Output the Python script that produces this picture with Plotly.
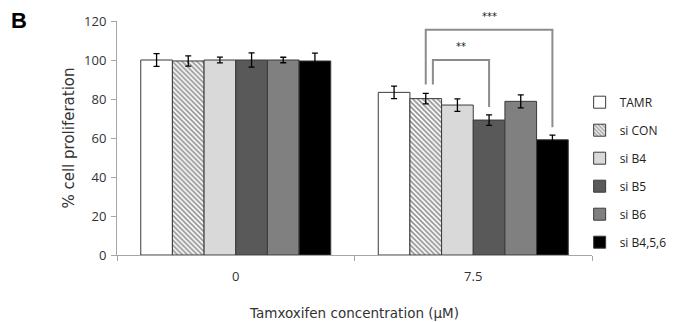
import plotly.graph_objects as go

# ---- data ----
concentrations = ["0", "7.5"]
groups = ["TAMR", "si CON", "si B4", "si B5", "si B6", "si B4,5,6"]
means = {
    "TAMR":      [100.0, 83.4],
    "si CON":    [99.5, 80.2],
    "si B4":     [100.0, 76.9],
    "si B5":     [100.0, 69.2],
    "si B6":     [100.0, 78.8],
    "si B4,5,6": [99.5, 59.1],
}
errors = {
    "TAMR":      [3.3, 3.2],
    "si CON":    [2.6, 2.7],
    "si B4":     [1.5, 3.2],
    "si B5":     [3.7, 2.7],
    "si B6":     [1.4, 3.3],
    "si B4,5,6": [4.0, 2.4],
}
# significance brackets: (group a, group b, label, bracket level in % units)
sig_pairs = [("si CON", "si B5", "**", 100.0), ("si CON", "si B4,5,6", "***", 115.5)]

fills = {
    "TAMR": "#ffffff",
    "si CON": "#ffffff",
    "si B4": "#d9d9d9",
    "si B5": "#595959",
    "si B6": "#808080",
    "si B4,5,6": "#000000",
}

fig = go.Figure()
for g in groups:
    marker = dict(color=fills[g], line=dict(color="#3a3a3a", width=1))
    if g == "si CON":
        marker["pattern"] = dict(shape="\\", fgcolor="#2a2a2a", bgcolor="#ffffff",
                                 size=3.5, solidity=0.5)
    fig.add_trace(go.Bar(
        name=g, x=concentrations, y=means[g], marker=marker,
        legendgroup=g,
        error_y=dict(type="data", array=errors[g], color="#000000",
                     thickness=1.3, width=3),
    ))

# bracket geometry derived from bar layout
bargap = 0.2
n = len(groups)
bw = (1 - bargap) / n
cat_idx = 1  # 7.5 uM group

def bar_center(g):
    i = groups.index(g)
    return cat_idx - (1 - bargap) / 2 + bw * (i + 0.5)

line_style = dict(color="#8c8c8c", width=2)
for k, (a, b, label, level) in enumerate(sig_pairs):
    xa = bar_center(a) + (0.03 if k == 0 else 0.0)
    xb = bar_center(b)
    ya = means[a][cat_idx] + errors[a][cat_idx] + 4.5
    yb = means[b][cat_idx] + errors[b][cat_idx] + 4
    fig.add_shape(type="path",
                  path=f"M {xa},{ya} L {xa},{level} L {xb},{level} L {xb},{yb}",
                  xref="x", yref="y", line=line_style)
    fig.add_annotation(x=(xa + xb) / 2, y=level + 3, xref="x", yref="y",
                       text=label, showarrow=False, yanchor="bottom",
                       font=dict(size=10, color="#1a1a1a", family="DejaVu Sans"))

fig.add_annotation(x=-(117 - 18.5) / 475, y=1 + (21 - 20) / 234,
                   xref="paper", yref="paper", text="<b>B</b>",
                   showarrow=False, xanchor="center", yanchor="middle",
                   font=dict(size=22, color="#000000", family="Liberation Sans"))

fig.update_layout(
    width=676, height=322,
    margin=dict(l=117, r=84, t=21, b=67, autoexpand=False),
    paper_bgcolor="white", plot_bgcolor="white",
    barmode="group", bargap=bargap, bargroupgap=0,
    font=dict(family="Open Sans, Noto Sans, sans-serif", size=12, color="#333333"),
    legend=dict(x=0.974, xanchor="left", y=0.715, yanchor="top",
                tracegroupgap=9, font=dict(size=12, color="#222222"),
                bgcolor="rgba(0,0,0,0)"),
    xaxis=dict(
        type="category", showline=True, linecolor="#a6a6a6", linewidth=1,
        ticks="outside", tickson="boundaries", ticklen=5, tickcolor="#a6a6a6",
        ticklabelstandoff=9, automargin=False,
        tickfont=dict(size=13),
        title=dict(text="Tamxoxifen concentration (µM)",
                   font=dict(size=13.5, family="DejaVu Sans"), standoff=24),
        showgrid=False, zeroline=False,
    ),
    yaxis=dict(
        range=[0, 120], dtick=20, showline=True, linecolor="#a6a6a6", linewidth=1,
        ticks="outside", ticklen=5, tickcolor="#a6a6a6", showgrid=False,
        zeroline=False, automargin=False, tickfont=dict(size=13),
        ticklabelstandoff=2,
        title=dict(text="% cell proliferation",
                   font=dict(size=15, family="DejaVu Sans"), standoff=5),
    ),
)

fig.write_html("out.html", config={"displayModeBar": False},
               post_script="document.body.style.margin='0';")
